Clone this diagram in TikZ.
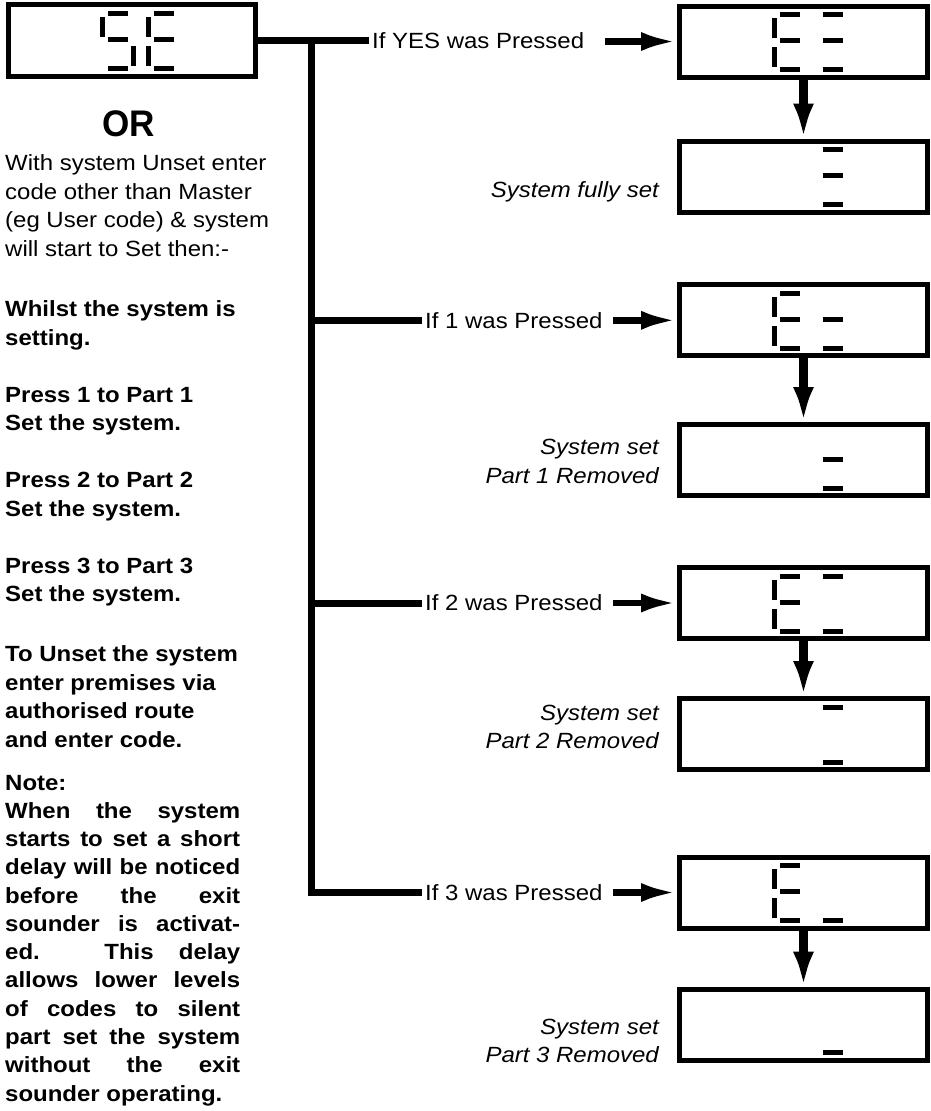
\documentclass[tikz,border=0pt]{standalone}
\usepackage{fontspec}
\setmainfont{Liberation Sans}[FakeStretch=1.09]
\usepackage{graphicx}
\usepackage{tikz}
\usetikzlibrary{arrows.meta}

\tikzset{
  lcd/.style={draw, line width=5pt, minimum width=248pt, minimum height=71pt, inner sep=0pt},
  branch/.style={line width=7pt},
  push/.style={line width=6.5pt, -{Latex[length=36pt,width=19pt]}},
  drop/.style={line width=8.5pt, -{Latex[length=35pt,width=21pt]}},
  key/.style={font=\fontsize{22}{28.5}\selectfont, inner xsep=3pt, inner ysep=0pt, anchor=west},
  state/.style={font=\fontsize{22}{28.5}\selectfont\itshape, inner sep=0pt, anchor=base east},
  para/.style={font=\fontsize{22}{28.5}\selectfont, inner sep=0pt, align=left, anchor=north west},
  bpara/.style={para, font=\fontsize{22}{28.5}\selectfont\bfseries},
  seg a/.pic={\fill (8,6) rectangle (28,11);},
  seg b/.pic={\fill (31,12) rectangle (36,32);},
  seg c/.pic={\fill (31,41) rectangle (36,61);},
  seg d/.pic={\fill (8,61) rectangle (28,66);},
  seg e/.pic={\fill (0,41) rectangle (5,61);},
  seg f/.pic={\fill (0,12) rectangle (5,32);},
  seg g/.pic={\fill (8,32) rectangle (28,37);}
}

\begin{document}
\begin{tikzpicture}[x=1pt,y=-1pt]
\useasboundingbox (0,0) rectangle (931,1111);

% the display when setting starts
\node[lcd, minimum width=247.5pt, minimum height=72pt] (se) at (131.75,40.5) {};
\foreach \s in {a,f,g,c,d} \pic at (100,4.5) {seg \s};
\foreach \s in {a,f,g,e,d} \pic at (146,4.5) {seg \s};

% left hand notes
\node[font=\bfseries\fontsize{37}{40}\selectfont, inner sep=0pt, anchor=base] (or) at (128.5,136.7) {\scalebox{0.87}[1]{OR}};
\node[para] (intro) at (5,154.7) {With system Unset enter\\code other than Master\\(eg User code) \& system\\will start to Set then:-};
\node[bpara] (whilst) at (5,300.7) {Whilst the system is\\setting.\\[28.5pt]Press 1 to Part 1\\Set the system.\\[28.5pt]Press 2 to Part 2\\Set the system.\\[28.5pt]Press 3 to Part 3\\Set the system.};
\node[bpara] (unset) at (5,645.7) {To Unset the system\\enter premises via\\authorised route\\and enter code.};
\node[font=\fontsize{22}{28.5}\selectfont\bfseries, inner sep=0pt, anchor=base west] (notehead) at (5,790) {Note:};
\node[font=\fontsize{22}{28.3}\selectfont\bfseries, inner sep=0pt, anchor=north west, text width=235pt, align=justify] (notetext) at (5,802) {When the system\linebreak starts to set a short\linebreak delay will be noticed\linebreak before the exit\linebreak sounder is activat-\linebreak ed. This delay\linebreak allows lower levels\linebreak of codes to silent\linebreak part set the system\linebreak without the exit\linebreak sounder operating.};

% right hand displays
\node[lcd] (yes) at (803.5,41.5) {};
\node[lcd] (full) at (803.5,176.5) {};
\node[lcd] (p1) at (803.5,320.3) {};
\node[lcd] (p1set) at (803.5,460) {};
\node[lcd] (p2) at (803.5,603) {};
\node[lcd] (p2set) at (803.5,734) {};
\node[lcd] (p3) at (803.5,892.5) {};
\node[lcd] (p3set) at (803.5,1024.7) {};

\foreach \s in {a,f,g,e,d} \pic at (772,6) {seg \s};
\foreach \s in {a,g,d} \pic at (815,6) {seg \s};
\foreach \s in {a,g,d} \pic at (815,141) {seg \s};
\foreach \s in {a,f,g,e,d} \pic at (772,284.8) {seg \s};
\foreach \s in {g,d} \pic at (815,284.8) {seg \s};
\foreach \s in {g,d} \pic at (815,424.5) {seg \s};
\foreach \s in {a,f,g,e,d} \pic at (772,567.5) {seg \s};
\foreach \s in {a,d} \pic at (815,567.5) {seg \s};
\foreach \s in {a,d} \pic at (815,698.5) {seg \s};
\foreach \s in {a,f,g,e,d} \pic at (772,857) {seg \s};
\pic at (815,857) {seg d};
\pic at (815,989.2) {seg d};

% key labels
\node[key] (tyes) at (369,40.5) {If YES was Pressed};
\node[key] (t1) at (422,320.3) {If 1 was Pressed};
\node[key] (t2) at (422,603) {If 2 was Pressed};
\node[key] (t3) at (422,892.5) {If 3 was Pressed};

% state labels
\node[state] (sfull) at (659,197) {System fully set};
\node[state] (s1a) at (659,454) {System set};
\node[state] (s1b) at (659,483) {Part 1 Removed};
\node[state] (s2a) at (659,720) {System set};
\node[state] (s2b) at (659,748) {Part 2 Removed};
\node[state] (s3a) at (659,1034) {System set};
\node[state] (s3b) at (659,1062) {Part 3 Removed};

% branch lines
\coordinate (top) at (311,40.5);
\coordinate (j1) at (311,320.3);
\coordinate (j2) at (311,603);
\coordinate (j3) at (311,892.5);
\draw[branch] (se.east) -- (tyes.west);
\draw[branch] (top) -- (j3) -- (t3.west);
\draw[branch] (j1) -- (t1.west);
\draw[branch] (j2) -- (t2.west);

% arrows
\coordinate (a0) at (605,41.5);
\coordinate (a1) at (613,320.3);
\coordinate (a2) at (613,603);
\coordinate (a3) at (613,892.5);
\draw[push] (a0) -- (yes.west);
\draw[push] (a1) -- (p1.west);
\draw[push] (a2) -- (p2.west);
\draw[push] (a3) -- (p3.west);
\draw[drop] (yes) -- (full);
\draw[drop] (p1) -- (p1set);
\draw[drop] (p2) -- (p2set);
\draw[drop] (p3) -- (p3set);
\end{tikzpicture}
\end{document}
